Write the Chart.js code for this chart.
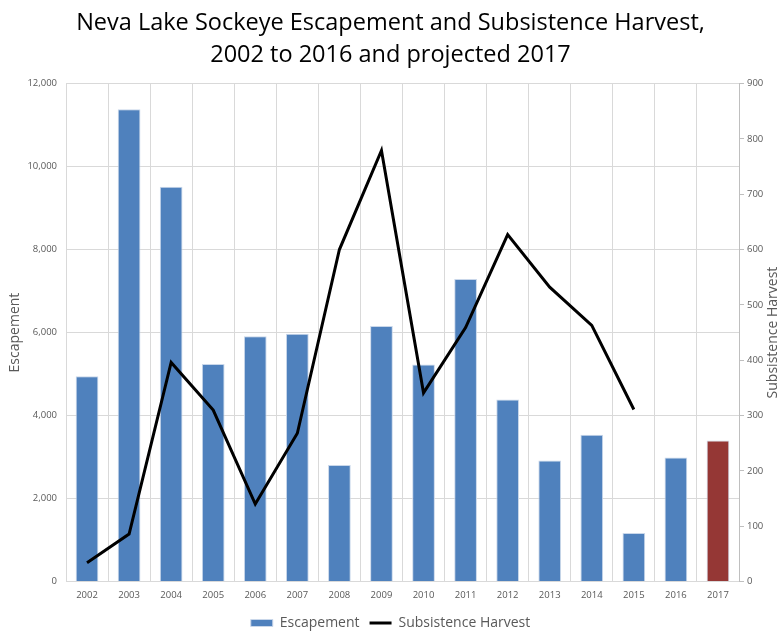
<!DOCTYPE html>
<html>
<head>
<meta charset="utf-8">
<script src="https://cdn.jsdelivr.net/npm/chart.js@4"></script>
<style>
html,body{margin:0;padding:0;background:#fff;}
#wrap{width:781px;height:632px;}
</style>
</head>
<body>
<div id="wrap"><canvas id="c" width="781" height="632"></canvas></div>
<script>
const years = ['2002','2003','2004','2005','2006','2007','2008','2009','2010','2011','2012','2013','2014','2015','2016','2017'];
const escapement = [4950, 11380, 9510, 5240, 5910, 5970, 2810, 6160, 5230, 7290, 4390, 2920, 3540, 1170, 2990, 3400];
const harvest = [34, 86, 396, 310, 140, 268, 600, 779, 341, 459, 627, 532, 463, 311, null, null];
const leftTicks = [0, 2000, 4000, 6000, 8000, 10000, 12000];
const rightTicks = [0, 100, 200, 300, 400, 500, 600, 700, 800, 900];
const rightTitle = 'Subsistence Harvest';

const barColors = years.map(y => y === '2017' ? '#953735' : '#4F81BD');
const gray = '#595959';
const font = "'Open Sans', 'Liberation Sans', sans-serif";

const rightTitlePlugin = {
  id: 'rightTitle',
  afterDraw(chart) {
    const ctx = chart.ctx, a = chart.chartArea;
    ctx.save();
    ctx.translate(773, (a.top + a.bottom) / 2);
    ctx.rotate(-Math.PI / 2);
    ctx.textAlign = 'center';
    ctx.textBaseline = 'middle';
    ctx.fillStyle = gray;
    ctx.font = "14px 'Open Sans'";
    ctx.fillText(rightTitle, 0, 0);
    ctx.restore();
  }
};

new Chart(document.getElementById('c'), {
  data: {
    labels: years,
    datasets: [
      {
        type: 'line', label: 'Subsistence Harvest', data: harvest, yAxisID: 'y1',
        borderColor: '#000', backgroundColor: '#000', borderWidth: 3, pointRadius: 0,
        tension: 0, spanGaps: false, order: 0, pointStyle: 'line'
      },
      {
        type: 'bar', label: 'Escapement', data: escapement, yAxisID: 'y',
        backgroundColor: barColors, borderColor: '#c9d7ea', borderWidth: 1,
        categoryPercentage: 1, barPercentage: 0.54, order: 1, pointStyle: 'rect'
      }
    ]
  },
  plugins: [rightTitlePlugin],
  options: {
    responsive: false, animation: false,
    layout: { padding: { left: 0, right: 0, top: 0, bottom: -8 } },
    plugins: {
      title: {
        display: true,
        text: ['Neva Lake Sockeye Escapement and Subsistence Harvest,', '2002 to 2016 and projected 2017'],
        color: '#000', font: { family: font, size: 23.5, weight: 'normal', lineHeight: 1.33 },
        padding: { top: 8, bottom: 13 }
      },
      legend: {
        position: 'bottom', reverse: true,
        labels: {
          color: gray, font: { family: font, size: 14 },
          usePointStyle: true, pointStyleWidth: 22, boxWidth: 22, boxHeight: 7, padding: 10
        }
      },
      tooltip: { enabled: false }
    },
    scales: {
      x: {
        grid: { color: '#d9d9d9', offset: true, drawTicks: false },
        border: { color: '#d9d9d9' },
        ticks: { color: gray, font: { family: font, size: 9.5 }, padding: 8 },
        afterFit: s => { s.height = s.height - 3; }
      },
      y: {
        position: 'left', min: 0, max: 12000,
        afterBuildTicks: a => { a.ticks = leftTicks.map(v => ({ value: v })); },
        grid: { color: '#d9d9d9', drawTicks: false },
        border: { color: '#d9d9d9' },
        ticks: { color: gray, font: { family: font, size: 9.5 }, padding: 9,
          callback: v => v.toLocaleString('en-US') },
        title: { display: true, text: 'Escapement', color: gray, font: { family: font, size: 14 }, padding: { top: 7, bottom: 0 } },
        afterFit: s => { s.width = 66; }
      },
      y1: {
        position: 'right', min: 0, max: 900,
        afterBuildTicks: a => { a.ticks = rightTicks.map(v => ({ value: v })); },
        grid: { drawOnChartArea: false, color: '#bfbfbf', tickLength: 5 },
        border: { color: '#bfbfbf' },
        ticks: { color: gray, font: { family: font, size: 9.5 }, padding: 3 },
        afterFit: s => { s.width = 42; }
      }
    }
  }
});
</script>
</body>
</html>
